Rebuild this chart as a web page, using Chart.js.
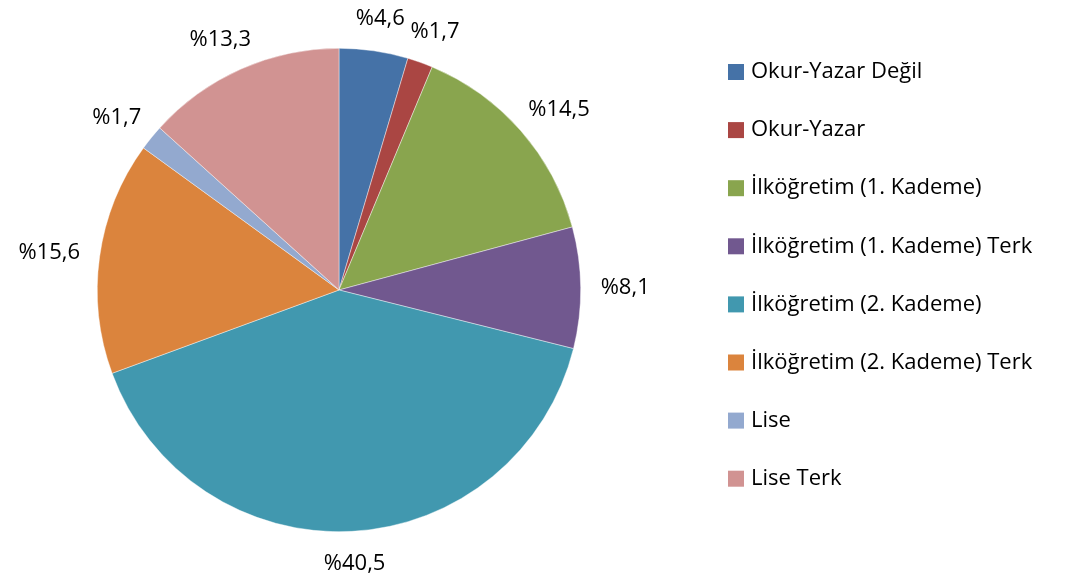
<!DOCTYPE html>
<html>
<head>
<meta charset="utf-8">
<script src="https://cdn.jsdelivr.net/npm/chart.js@4"></script>
<style>
  html, body { margin: 0; padding: 0; background: #fff; }
  #wrap { width: 1071px; height: 579px; }
</style>
</head>
<body>
<div id="wrap"><canvas id="pie"></canvas></div>
<script>
const categories = [
  "Okur-Yazar Değil",
  "Okur-Yazar",
  "İlköğretim (1. Kademe)",
  "İlköğretim (1. Kademe) Terk",
  "İlköğretim (2. Kademe)",
  "İlköğretim (2. Kademe) Terk",
  "Lise",
  "Lise Terk"
];
const shares = [4.6, 1.7, 14.5, 8.1, 40.5, 15.6, 1.7, 13.3];
const colors = ["#4572A7","#AA4643","#89A54E","#71588F","#4198AF","#DB843D","#93A9CF","#D19392"];

const FONT = "22px 'Open Sans', sans-serif";

// percentage labels outside each slice
const outsideLabels = {
  id: "outsideLabels",
  afterDatasetsDraw(chart) {
    const ctx = chart.ctx;
    const meta = chart.getDatasetMeta(0);
    ctx.save();
    ctx.font = FONT;
    ctx.fillStyle = "#000";
    ctx.textAlign = "center";
    ctx.textBaseline = "middle";
    meta.data.forEach((arc, i) => {
      const p = arc.getProps(["x","y","startAngle","endAngle","outerRadius"], true);
      const mid = (p.startAngle + p.endAngle) / 2;
      const text = "%" + shares[i].toFixed(1).replace(".", ",");
      const w = ctx.measureText(text).width;
      const h = 24;
      const d = 20;
      const x = p.x + Math.cos(mid) * (p.outerRadius + d + w / 2);
      const y = p.y + Math.sin(mid) * (p.outerRadius + d + h / 2);
      ctx.fillText(text, x, y);
    });
    ctx.restore();
  }
};

// legend drawn on the right
const sideLegend = {
  id: "sideLegend",
  afterDraw(chart) {
    const ctx = chart.ctx;
    ctx.save();
    ctx.font = FONT;
    ctx.textBaseline = "middle";
    categories.forEach((c, i) => {
      const y = 72 + i * 58.1;
      ctx.fillStyle = colors[i];
      ctx.fillRect(728, y - 8, 16, 16);
      ctx.fillStyle = "#000";
      ctx.fillText(c, 751, y);
    });
    ctx.restore();
  }
};

new Chart(document.getElementById("pie"), {
  type: "pie",
  data: {
    labels: categories,
    datasets: [{
      data: shares,
      backgroundColor: colors,
      borderColor: "rgba(255,255,255,0.7)",
      borderWidth: 0.6
    }]
  },
  options: {
    responsive: true,
    maintainAspectRatio: false,
    animation: false,
    layout: { padding: { left: 97, right: 490, top: 48, bottom: 47 } },
    plugins: {
      legend: { display: false },
      tooltip: { enabled: false }
    }
  },
  plugins: [outsideLabels, sideLegend]
});
</script>
</body>
</html>
